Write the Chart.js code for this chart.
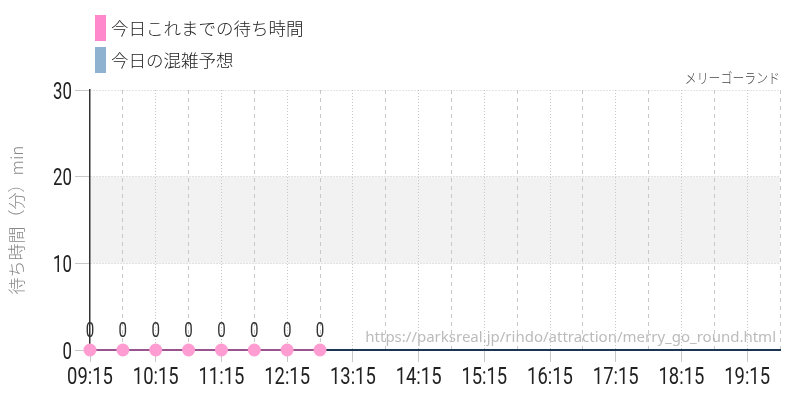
<!DOCTYPE html>
<html lang="ja">
<head>
    <meta charset="UTF-8">
    <title>メリーゴーランド 待ち時間</title>
    <script src="https://cdn.jsdelivr.net/npm/chart.js"></script>
    <style>
        body { margin: 0; background: #fff; }
        #wrap { width: 800px; height: 400px; }
    </style>
</head>
<body>
    <div id="wrap"><canvas id="waitChart"></canvas></div>

    <script>
        // 時間帯 (30分おき)
        const times = ['09:15', '09:45', '10:15', '10:45', '11:15', '11:45', '12:15', '12:45',
            '13:15', '13:45', '14:15', '14:45', '15:15', '15:45', '16:15', '16:45',
            '17:15', '17:45', '18:15', '18:45', '19:15', '19:45'];
        // 今日これまでの待ち時間 (分)
        const waitToday = [0, 0, 0, 0, 0, 0, 0, 0];
        // 今日の混雑予想 (データなし)
        const forecast = [];
        const yTicks = [0, 10, 20, 30];

        const numFont = "'Roboto', sans-serif";
        const jpFont = "'Noto Sans CJK JP', sans-serif";

        // 細長い数字を描く (横方向に縮める)
        function narrowText(ctx, text, x, y, sx, align) {
            ctx.save();
            ctx.translate(x, y);
            ctx.scale(sx, 1);
            ctx.textAlign = align;
            ctx.fillText(text, 0, 0);
            ctx.restore();
        }

        // 背景・凡例・注記
        const decor = {
            id: 'decor',
            beforeDraw(chart) {
                const { ctx, chartArea: a, scales: { y } } = chart;
                ctx.save();
                ctx.fillStyle = '#f2f2f2';
                const top = y.getPixelForValue(20), bot = y.getPixelForValue(10);
                ctx.fillRect(a.left, top, a.right - a.left, bot - top);
                ctx.restore();
            },
            afterDraw(chart) {
                const { ctx, chartArea: a, scales: { x, y } } = chart;
                ctx.save();
                // 凡例
                chart.data.datasets.forEach((ds, i) => {
                    const y0 = 15 + i * 32;
                    ctx.fillStyle = ds.legendColor;
                    ctx.fillRect(95, y0, 11, 26);
                    ctx.fillStyle = '#222';
                    ctx.font = '300 17.5px ' + jpFont;
                    ctx.textBaseline = 'middle';
                    ctx.textAlign = 'left';
                    ctx.fillText(ds.label, 111, y0 + 13);
                });
                ctx.font = '300 14px ' + jpFont;
                ctx.fillStyle = '#444';
                narrowText(ctx, 'メリーゴーランド', a.right, 78, 0.85, 'right');
                ctx.font = "15px 'Noto Sans', sans-serif";
                ctx.fillStyle = '#bbb';
                ctx.textAlign = 'right';
                ctx.fillText('https://parksreal.jp/rindo/attraction/merry_go_round.html', a.right - 4, 338);

                // 目盛りの数字
                ctx.fillStyle = '#222';
                ctx.textBaseline = 'alphabetic';
                ctx.font = '24px ' + numFont;
                y.ticks.forEach((t, i) => {
                    narrowText(ctx, String(t.value), 72, y.getPixelForTick(i) + 8.5, 0.7, 'right');
                });
                ctx.font = '23px ' + numFont;
                x.ticks.forEach((t, i) => {
                    if (i % 2 === 0) {
                        narrowText(ctx, times[i], x.getPixelForTick(i), 384, 0.8, 'center');
                    }
                });
                ctx.restore();
            },
            afterDatasetsDraw(chart) {
                const { ctx } = chart;
                const meta = chart.getDatasetMeta(0);
                ctx.save();
                ctx.font = '21px ' + numFont;
                ctx.fillStyle = '#333';
                ctx.textBaseline = 'bottom';
                meta.data.forEach((pt, i) => {
                    narrowText(ctx, String(waitToday[i]), pt.x, pt.y - 8, 0.72, 'center');
                });
                ctx.restore();
            }
        };

        new Chart(document.getElementById('waitChart'), {
            type: 'line',
            data: {
                labels: times,
                datasets: [{
                    label: '今日これまでの待ち時間',
                    data: waitToday,
                    legendColor: '#ff88cc',
                    borderColor: 'rgba(255, 110, 190, 0.55)',
                    borderWidth: 2,
                    pointBackgroundColor: '#ff9dd2',
                    pointBorderWidth: 0,
                    pointRadius: 6.5,
                    clip: false,
                    tension: 0
                }, {
                    label: '今日の混雑予想',
                    data: forecast,
                    legendColor: '#8fb2d0',
                    borderColor: '#8fb2d0',
                    pointRadius: 0
                }]
            },
            options: {
                responsive: true,
                maintainAspectRatio: false,
                animation: false,
                layout: { padding: { top: 90, right: 20, left: 6, bottom: 0 } },
                plugins: { legend: { display: false }, tooltip: { enabled: false } },
                scales: {
                    x: {
                        afterFit(s) { s.height = 50; },
                        border: {
                            color: '#1d3452', width: 2,
                            dash: ctx => (ctx.index % 2 === 0 ? [1, 2] : [4, 4])
                        },
                        grid: {
                            color: ctx => (ctx.index === 0 ? 'rgba(0,0,0,0)' : '#c8c8c8'),
                            lineWidth: 1,
                            tickLength: 12,
                            tickColor: ctx => (ctx.index % 2 === 0 ? '#c8c8c8' : 'rgba(0,0,0,0)')
                        },
                        ticks: {
                            autoSkip: false,
                            maxRotation: 0,
                            color: 'rgba(0,0,0,0)',
                            font: { family: numFont, size: 14 },
                            callback: (v, i) => (i % 2 === 0 ? times[i] : '')
                        }
                    },
                    y: {
                        min: 0,
                        max: 30,
                        afterFit(s) { s.width = 84; },
                        afterBuildTicks(s) { s.ticks = yTicks.map(v => ({ value: v })); },
                        border: { color: '#333', width: 1.5, dash: [1, 2] },
                        grid: {
                            color: ctx => (ctx.index === 0 ? 'rgba(0,0,0,0)' : '#c8c8c8'),
                            tickLength: 15,
                            tickColor: '#c8c8c8',
                            tickBorderDash: []
                        },
                        ticks: {
                            color: 'rgba(0,0,0,0)',
                            font: { family: numFont, size: 14 }
                        },
                        title: {
                            display: true,
                            text: '待ち時間（分）min',
                            color: '#888',
                            padding: { top: 0, bottom: 6 },
                            font: { family: jpFont, size: 17, weight: '300' }
                        }
                    }
                }
            },
            plugins: [decor]
        });
    </script>
</body>
</html>
